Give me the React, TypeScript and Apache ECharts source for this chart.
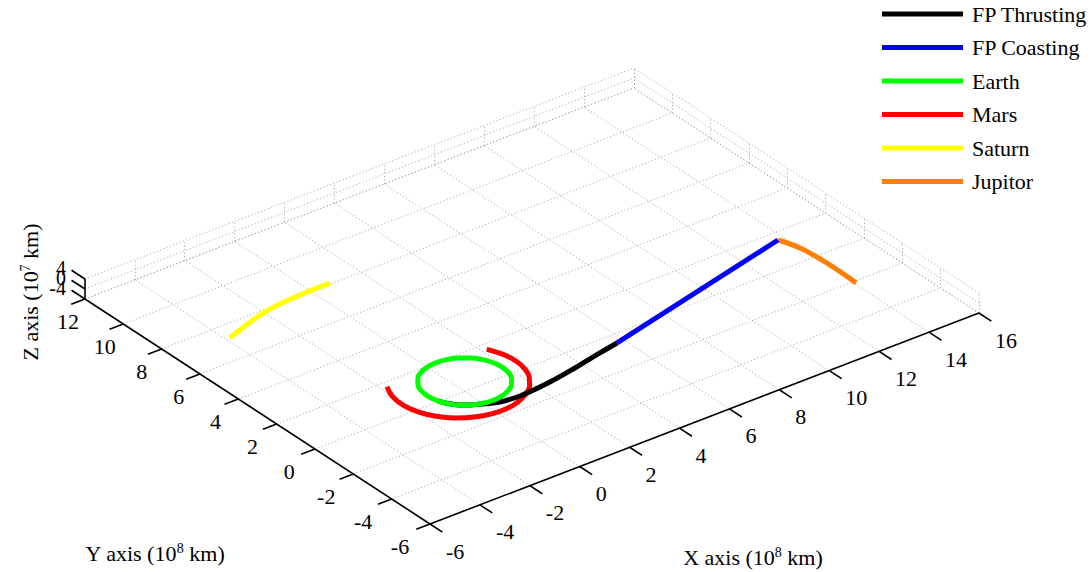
import React, { useEffect, useRef } from "react";
import * as echarts from "echarts";

// ---------- data (units: 10^8 km for X/Y, 10^7 km for Z) ----------
const X_TICKS = [-6, -4, -2, 0, 2, 4, 6, 8, 10, 12, 14, 16];
const Y_TICKS = [-6, -4, -2, 0, 2, 4, 6, 8, 10, 12];
const Z_TICKS = [-4, 0, 4];
const X_RANGE = [-6, 16];
const Y_RANGE = [-6, 12];
const Z_RANGE = [-4, 4];

const SERIES_NAMES = ["FP Thrusting", "FP Coasting", "Earth", "Mars", "Saturn", "Jupitor"];

const FP_THRUSTING = [
  [-1.43, -0.46], [-1.299, -0.75], [-1.061, -1.061], [-0.75, -1.299], [-0.35, -1.52],
  [0.1, -1.715], [0.83, -1.8], [2.04, -1.69], [3.3, -1.455], [4.51, -1.18], [5.33, -1.01],
];
const FP_COASTING = [[5.33, -1.01], [13.37, 1.06]];
const EARTH = [
  [1.5, 0], [1.449, 0.388], [1.299, 0.75], [1.061, 1.061], [0.75, 1.299], [0.388, 1.449],
  [0, 1.5], [-0.388, 1.449], [-0.75, 1.299], [-1.061, 1.061], [-1.299, 0.75], [-1.449, 0.388],
  [-1.5, 0], [-1.449, -0.388], [-1.299, -0.75], [-1.061, -1.061], [-0.75, -1.299], [-0.388, -1.449],
  [0, -1.5], [0.388, -1.449], [0.75, -1.299], [1.061, -1.061], [1.299, -0.75], [1.449, -0.388], [1.5, 0],
];
const MARS = [
  [-2.157, 1.245], [-2.404, 0.644], [-2.47, 0], [-2.353, -0.63], [-2.071, -1.195], [-1.653, -1.653],
  [-1.141, -1.976], [-0.577, -2.152], [0, -2.178], [0.553, -2.062], [1.051, -1.82], [1.471, -1.471],
  [1.792, -1.034], [1.999, -0.536], [2.083, 0], [2.036, 0.546], [1.856, 1.071], [1.795, 1.189],
];
const SATURN = [[-4.24, 6.73], [-2.35, 7.36], [-0.81, 7.54], [0.41, 7.56]];
const JUPITOR = [[13.37, 1.06], [13.62, 0.23], [13.71, -0.96], [13.68, -2.61]];

// ---------- view / styling ----------
const W = 1091;
const H = 572;
const CORNER = [430, 524]; // pixel of (Xmin, Ymin, Zmin)
const EX = [24.95, -9.59];
const EY = [-19.17, -12.5];
const EZ = [0, -2.5];
const FONT = '"Liberation Serif", "Times New Roman", serif';

function proj(x: number, y: number, z: number): [number, number] {
  const dx = x - X_RANGE[0];
  const dy = y - Y_RANGE[0];
  const dz = z - Z_RANGE[0];
  return [
    CORNER[0] + dx * EX[0] + dy * EY[0] + dz * EZ[0],
    CORNER[1] + dx * EX[1] + dy * EY[1] + dz * EZ[1],
  ];
}

function seg(a: number[], b: number[]) {
  return { coords: [proj(a[0], a[1], a[2]), proj(b[0], b[1], b[2])] };
}

export default function App() {
  const ref = useRef<HTMLDivElement>(null);

  useEffect(() => {
    if (!ref.current) return;
    const chart = echarts.init(ref.current, undefined, { renderer: "svg" });
    const [x0, x1] = X_RANGE;
    const [y0, y1] = Y_RANGE;
    const [z0, z1] = Z_RANGE;

    const gridSegs: any[] = [];
    X_TICKS.forEach((x) => {
      gridSegs.push(seg([x, y0, z0], [x, y1, z0]));
      gridSegs.push(seg([x, y1, z0], [x, y1, z1]));
    });
    Y_TICKS.forEach((y) => {
      gridSegs.push(seg([x0, y, z0], [x1, y, z0]));
      gridSegs.push(seg([x1, y, z0], [x1, y, z1]));
    });
    Z_TICKS.forEach((z) => {
      gridSegs.push(seg([x0, y1, z], [x1, y1, z]));
      gridSegs.push(seg([x1, y0, z], [x1, y1, z]));
    });

    const axisSegs: any[] = [
      seg([x0, y0, z0], [x1, y0, z0]),
      seg([x0, y0, z0], [x0, y1, z0]),
      seg([x0, y1, z0], [x0, y1, z1]),
    ];
    X_TICKS.forEach((x) => axisSegs.push(seg([x, y0, z0], [x, y0 - 0.65, z0])));
    Y_TICKS.forEach((y) => axisSegs.push(seg([x0, y, z0], [x0 - 0.55, y, z0])));
    Z_TICKS.forEach((z) => axisSegs.push(seg([x0, y1, z], [x0, y1 + 0.7, z])));

    const txt = (x: number, y: number, text: string, align: string, size = 22) => ({
      type: "text",
      x,
      y,
      silent: true,
      style: { text, fill: "#000", fontSize: size, fontFamily: FONT, align, verticalAlign: "middle" },
    });

    const graphics: any[] = [];
    X_TICKS.forEach((x) => {
      const p = proj(x, y0, z0);
      graphics.push(txt(p[0] + 16, p[1] + 27, String(x), "left"));
    });
    Y_TICKS.forEach((y) => {
      const p = proj(x0, y, z0);
      const off = -30 + ((y - y0) / (y1 - y0)) * 13;
      graphics.push(txt(p[0] + off, p[1] + 22, String(y), "center"));
    });
    Z_TICKS.forEach((z) => {
      const p = proj(x0, y1, z);
      graphics.push(txt(p[0] - 19, p[1] - 11, String(z), "right", 20));
    });
    const rich = {
      m: { fontSize: 22, fontFamily: FONT, fill: "#000", lineHeight: 24 },
      s: { fontSize: 14, fontFamily: FONT, fill: "#000", lineHeight: 14, verticalAlign: "top" },
    };
    graphics.push({
      type: "text", x: 753, y: 557, silent: true,
      style: { text: "{m|X axis (10}{s|8}{m| km)}", rich, align: "center", verticalAlign: "middle" },
    });
    graphics.push({
      type: "text", x: 155, y: 553, silent: true,
      style: { text: "{m|Y axis (10}{s|8}{m| km)}", rich, align: "center", verticalAlign: "middle" },
    });
    graphics.push({
      type: "text", x: 30, y: 292, rotation: Math.PI / 2, silent: true,
      style: { text: "{m|Z axis (10}{s|7}{m| km)}", rich, align: "center", verticalAlign: "middle" },
    });

    const curves = [
      { name: SERIES_NAMES[0], data: FP_THRUSTING, color: "#000000", z: 4, smooth: 0.35 },
      { name: SERIES_NAMES[1], data: FP_COASTING, color: "#0000ff", z: 4, smooth: false },
      { name: SERIES_NAMES[2], data: EARTH, color: "#00ff00", z: 5, smooth: 0.4 },
      { name: SERIES_NAMES[3], data: MARS, color: "#ff0000", z: 3, smooth: 0.4 },
      { name: SERIES_NAMES[4], data: SATURN, color: "#ffff00", z: 3, smooth: 0.4 },
      { name: SERIES_NAMES[5], data: JUPITOR, color: "#ff8000", z: 3, smooth: 0.4 },
    ];

    chart.setOption({
      animation: false,
      grid: { left: 0, right: 0, top: 0, bottom: 0 },
      xAxis: { type: "value", min: 0, max: W, show: false },
      yAxis: { type: "value", min: 0, max: H, inverse: true, show: false },
      legend: {
        orient: "vertical",
        left: 882,
        top: 3,
        padding: 0,
        icon: "rect",
        itemWidth: 81,
        itemHeight: 5,
        itemGap: 11.5,
        data: SERIES_NAMES,
        textStyle: { fontSize: 22, fontFamily: FONT, color: "#000", lineHeight: 22, padding: [0, 0, 0, 4] },
        selectedMode: false,
      },
      graphic: graphics,
      series: [
        {
          type: "lines",
          coordinateSystem: "cartesian2d",
          data: gridSegs,
          silent: true,
          z: 1,
          lineStyle: { color: "#a0a0a0", width: 1, type: [1, 2.5], opacity: 1 },
        },
        {
          type: "lines",
          coordinateSystem: "cartesian2d",
          data: axisSegs,
          silent: true,
          z: 2,
          lineStyle: { color: "#000", width: 1.6, opacity: 1 },
        },
        ...curves.map((c) => ({
          type: "line",
          name: c.name,
          data: c.data.map((p) => proj(p[0], p[1], 0)),
          symbol: "none",
          showSymbol: false,
          smooth: c.smooth,
          z: c.z,
          silent: true,
          lineStyle: { width: 5, color: c.color },
          itemStyle: { color: c.color },
        })),
      ],
    });
    return () => chart.dispose();
  }, []);

  return (
    <div
      ref={ref}
      style={{ position: "fixed", left: 0, top: 0, width: W, height: H, background: "#fff" }}
    />
  );
}
